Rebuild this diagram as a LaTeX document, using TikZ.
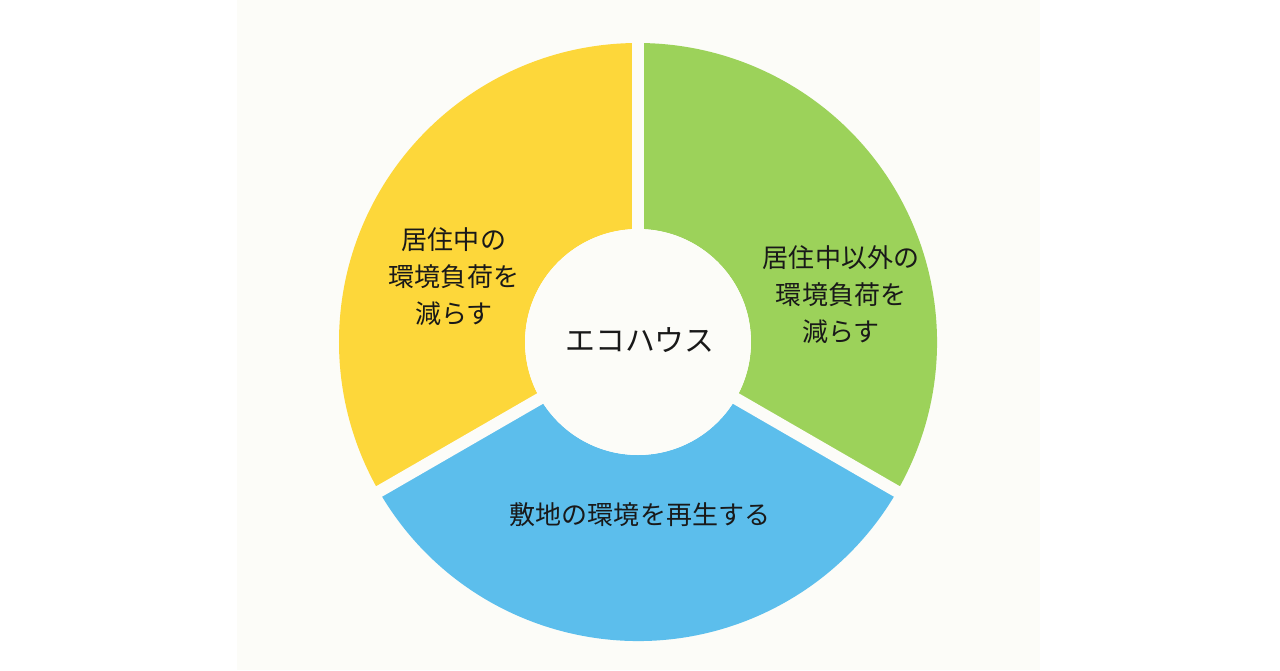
\documentclass[tikz,border=0pt]{standalone}
\usepackage{fontspec}
\setmainfont{Noto Sans CJK JP}
\usetikzlibrary{positioning}
\definecolor{bgpaper}{RGB}{252,252,248}
\definecolor{ecoyellow}{RGB}{253,215,58}
\definecolor{ecogreen}{RGB}{156,210,90}
\definecolor{ecoblue}{RGB}{92,190,236}

\begin{document}
\begin{tikzpicture}[x=0.02cm,y=0.02cm,
  lbl/.style={align=center, inner sep=0pt, text=black!90,
    font=\fontsize{14.8}{21}\selectfont},
  hub/.style={inner sep=0pt, text=black!90, font=\fontsize{17}{20}\selectfont},
  gap/.style={draw=bgpaper, line width=0.24cm}]
\useasboundingbox (-638,-328) rectangle (642,342);
% Draw paper
\fill[white] (-638,-328) rectangle (642,342);
\fill[bgpaper] (-401,-328) rectangle (402,342);

% Draw the three parts of the ring
\fill[ecoyellow] (90:299) arc[start angle=90, end angle=210, radius=299]
  -- (210:113) arc[start angle=210, end angle=90, radius=113] -- cycle;
\fill[ecogreen] (-30:299) arc[start angle=-30, end angle=90, radius=299]
  -- (90:113) arc[start angle=90, end angle=-30, radius=113] -- cycle;
\fill[ecoblue] (210:299) arc[start angle=210, end angle=330, radius=299]
  -- (330:113) arc[start angle=330, end angle=210, radius=113] -- cycle;

% Cut the gaps and the hole
\foreach \a in {90,210,330}
  \draw[gap] (0,0) -- (\a:310);
\fill[bgpaper] (0,0) circle[radius=113];

% Labels
\node[hub] (eco) at (2,2) {エコハウス};
\node[lbl] (living) at (-184,65) {居住中の\\環境負荷を\\減らす};
\node[lbl] (other) at (203,47) {居住中以外の\\環境負荷を\\減らす};
\node[lbl] (site) at (2,-173) {敷地の環境を再生する};
\end{tikzpicture}
\end{document}
